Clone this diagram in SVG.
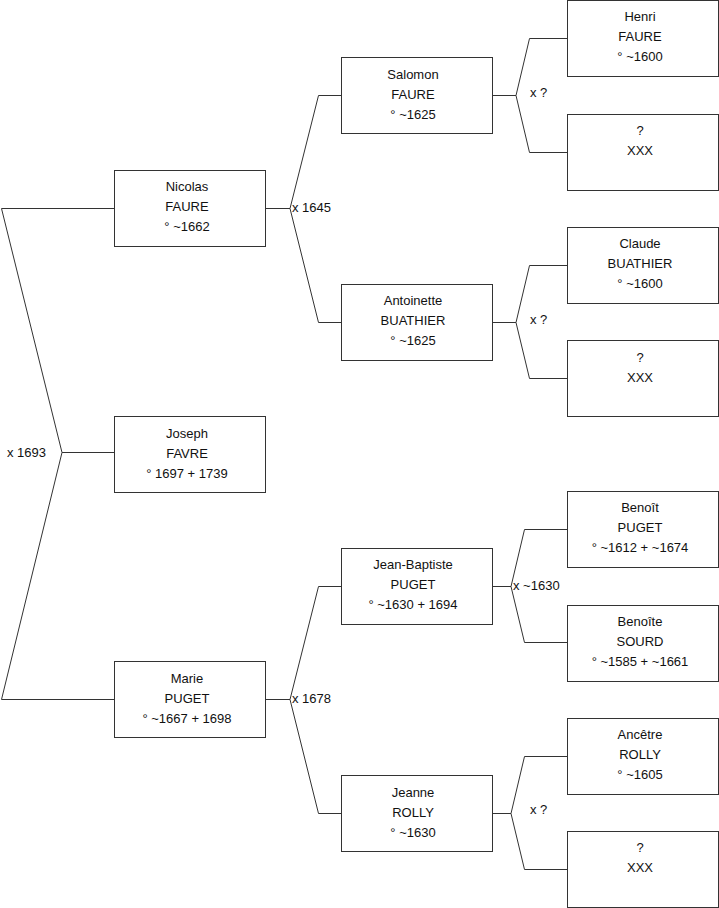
<svg xmlns="http://www.w3.org/2000/svg" width="719" height="908" viewBox="0 0 719 908">
<style>
.box{fill:#fff;stroke:#333;stroke-width:1}
.ln{fill:none;stroke:#333;stroke-width:1}
text{font-family:"Liberation Sans",Arial,sans-serif;font-size:13px;fill:#111}
.c{text-anchor:middle}
</style>
<rect width="719" height="908" fill="#fff"/>
<g id="connectors">
<polyline class="ln" points="114,208.5 1.5,208.5 62,452.5 1.5,699.5 114,699.5"/>
<line class="ln" x1="62" y1="452.5" x2="114" y2="452.5"/>
<polyline class="ln" points="341,95.5 318.5,95.5 290,208.5 318.5,322.5 341,322.5"/>
<line class="ln" x1="265" y1="208.5" x2="290" y2="208.5"/>
<polyline class="ln" points="341,586.5 318.5,586.5 290,699.5 318.5,813.5 341,813.5"/>
<line class="ln" x1="265" y1="699.5" x2="290" y2="699.5"/>
<polyline class="ln" points="567,38.5 529.5,38.5 516,95.5 529.5,152.5 567,152.5"/>
<line class="ln" x1="492" y1="95.5" x2="516" y2="95.5"/>
<polyline class="ln" points="567,265.5 529.5,265.5 516,322.5 529.5,378.5 567,378.5"/>
<line class="ln" x1="492" y1="322.5" x2="516" y2="322.5"/>
<polyline class="ln" points="567,529.5 524.5,529.5 511,586.5 524.5,642.5 567,642.5"/>
<line class="ln" x1="492" y1="586.5" x2="511" y2="586.5"/>
<polyline class="ln" points="567,756.5 524.5,756.5 511,813.5 524.5,869.5 567,869.5"/>
<line class="ln" x1="492" y1="813.5" x2="511" y2="813.5"/>
<text x="7" y="457">x 1693</text>
<text x="292" y="212">x 1645</text>
<text x="292" y="703">x 1678</text>
<text x="530" y="97">x ?</text>
<text x="530" y="324">x ?</text>
<text x="513" y="590">x ~1630</text>
<text x="530" y="814">x ?</text>
</g>
<g id="nicolas"><rect class="box" x="114.5" y="170.5" width="151" height="76"/><text class="c" x="187" y="191">Nicolas</text><text class="c" x="187" y="211">FAURE</text><text class="c" x="187" y="231">° ~1662</text></g>
<g id="joseph"><rect class="box" x="114.5" y="416.5" width="151" height="76"/><text class="c" x="187" y="438">Joseph</text><text class="c" x="187" y="458">FAVRE</text><text class="c" x="187" y="478">° 1697 + 1739</text></g>
<g id="marie"><rect class="box" x="114.5" y="661.5" width="151" height="76"/><text class="c" x="187" y="683">Marie</text><text class="c" x="187" y="703">PUGET</text><text class="c" x="187" y="723">° ~1667 + 1698</text></g>
<g id="salomon"><rect class="box" x="341.5" y="57.5" width="151" height="76"/><text class="c" x="413" y="79">Salomon</text><text class="c" x="413" y="99">FAURE</text><text class="c" x="413" y="119">° ~1625</text></g>
<g id="antoinette"><rect class="box" x="341.5" y="284.5" width="151" height="76"/><text class="c" x="413" y="305">Antoinette</text><text class="c" x="413" y="325">BUATHIER</text><text class="c" x="413" y="345">° ~1625</text></g>
<g id="jeanbaptiste"><rect class="box" x="341.5" y="548.5" width="151" height="76"/><text class="c" x="413" y="569">Jean-Baptiste</text><text class="c" x="413" y="589">PUGET</text><text class="c" x="413" y="609">° ~1630 + 1694</text></g>
<g id="jeanne"><rect class="box" x="341.5" y="775.5" width="151" height="76"/><text class="c" x="413" y="797">Jeanne</text><text class="c" x="413" y="817">ROLLY</text><text class="c" x="413" y="837">° ~1630</text></g>
<g id="henri"><rect class="box" x="567.5" y="0.5" width="151" height="76"/><text class="c" x="640" y="21">Henri</text><text class="c" x="640" y="41">FAURE</text><text class="c" x="640" y="61">° ~1600</text></g>
<g id="unknown1"><rect class="box" x="567.5" y="114.5" width="151" height="76"/><text class="c" x="640" y="135">?</text><text class="c" x="640" y="155">XXX</text></g>
<g id="claude"><rect class="box" x="567.5" y="227.5" width="151" height="76"/><text class="c" x="640" y="248">Claude</text><text class="c" x="640" y="268">BUATHIER</text><text class="c" x="640" y="288">° ~1600</text></g>
<g id="unknown2"><rect class="box" x="567.5" y="340.5" width="151" height="76"/><text class="c" x="640" y="362">?</text><text class="c" x="640" y="382">XXX</text></g>
<g id="benoit"><rect class="box" x="567.5" y="491.5" width="151" height="76"/><text class="c" x="640" y="512">Benoît</text><text class="c" x="640" y="532">PUGET</text><text class="c" x="640" y="552">° ~1612 + ~1674</text></g>
<g id="benoite"><rect class="box" x="567.5" y="605.5" width="151" height="76"/><text class="c" x="640" y="626">Benoîte</text><text class="c" x="640" y="646">SOURD</text><text class="c" x="640" y="666">° ~1585 + ~1661</text></g>
<g id="ancetre"><rect class="box" x="567.5" y="718.5" width="151" height="76"/><text class="c" x="640" y="739">Ancêtre</text><text class="c" x="640" y="759">ROLLY</text><text class="c" x="640" y="779">° ~1605</text></g>
<g id="unknown3"><rect class="box" x="567.5" y="831.5" width="151" height="76"/><text class="c" x="640" y="852">?</text><text class="c" x="640" y="872">XXX</text></g>
</svg>
